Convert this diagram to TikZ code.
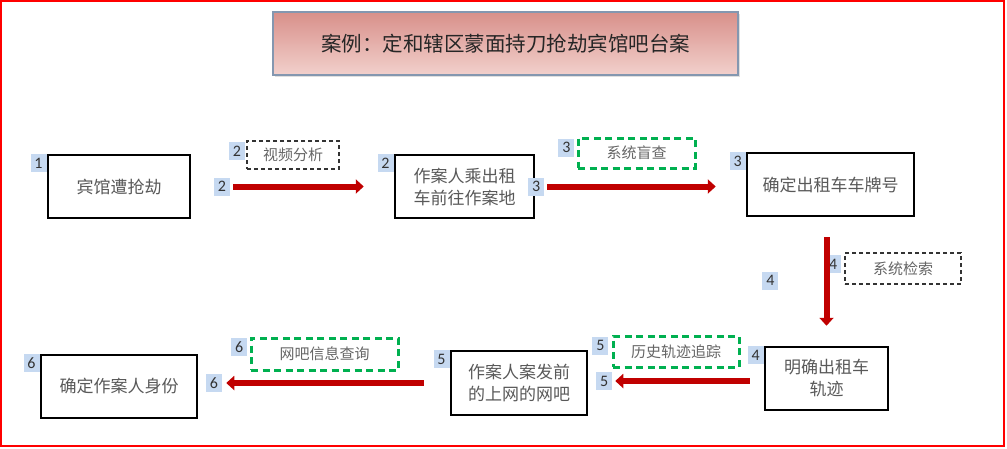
\documentclass[tikz,border=0pt]{standalone}
\usepackage{fontspec}
\setmainfont{Carlito}
\newfontfamily\cjk{Noto Sans CJK SC}
\usepackage{tikz}
\usetikzlibrary{positioning,arrows.meta,shadows}
\definecolor{flowred}{HTML}{C00000}
\definecolor{tagblue}{HTML}{C6D9F1}
\definecolor{notegreen}{HTML}{00B050}
\definecolor{titletop}{HTML}{D8908A}
\definecolor{titlebot}{HTML}{F2D0CC}
\definecolor{titleline}{HTML}{8497B0}
\definecolor{outerframe}{HTML}{FF0000}
\tikzset{
  stepbox/.style={draw=black, line width=2.5pt, fill=white, align=center,
              inner sep=0pt, text=black!65, font=\cjk\fontsize{17}{22}\selectfont},
  notebox/.style={draw=black!80, line width=1.5pt, dash pattern=on 4pt off 3pt,
              fill=white, inner sep=0pt, text=black!60, font=\cjk\fontsize{15}{18}\selectfont},
  greennote/.style={notebox, draw=notegreen, line width=3pt, dash pattern=on 7pt off 4.5pt},
  tag/.style={fill=tagblue, minimum width=16pt, minimum height=18pt, inner sep=0pt,
              text=black!80, font=\fontsize{16}{16}\selectfont},
  titlebox/.style={draw=titleline, line width=1.5pt, top color=titletop,
              bottom color=titlebot, inner sep=0pt, text=black!85,
              font=\cjk\fontsize{20.5}{24}\selectfont,
              drop shadow={opacity=0.25, shadow xshift=2pt, shadow yshift=-2pt}},
  flow/.style={draw=flowred, line width=6pt, -{Triangle[length=8pt,width=14pt]}},
}

\begin{document}
\begin{tikzpicture}[x=1pt, y=-1pt]
\useasboundingbox (0,0) rectangle (1007,448);
\draw[outerframe, line width=1.5pt] (1,1) rectangle (1004,446);

\node[titlebox, minimum width=465pt, minimum height=63pt] (title) at (505.5,43.5)
  {案例：定和辖区蒙面持刀抢劫宾馆吧台案};

\node[stepbox, minimum width=142pt, minimum height=63pt] (b1) at (119,186.5) {宾馆遭抢劫};
\node[stepbox, minimum width=139pt, minimum height=63pt] (b2) at (464.5,186.5)
  {作案人乘出租\\车前往作案地};
\node[stepbox, minimum width=167pt, minimum height=63pt] (b3) at (830.5,184.5) {确定出租车车牌号};
\node[stepbox, minimum width=123pt, minimum height=63pt] (b4) at (826.5,378.5)
  {明确出租车\\轨迹};
\node[stepbox, minimum width=136pt, minimum height=64pt] (b5) at (519,383)
  {作案人案发前\\的上网的网吧};
\node[stepbox, minimum width=156pt, minimum height=63pt] (b6) at (119,386.5) {确定作案人身份};

\node[tag, anchor=north east] (tb1) at (b1.north west) {1};
\node[tag, anchor=north east] (tb2) at (b2.north west) {2};
\node[tag, anchor=north east] (tb3) at (b3.north west) {3};
\node[tag, anchor=north east] (tb4) at (b4.north west) {4};
\node[tag, anchor=north east] (tb5) at (b5.north west) {5};
\node[tag, anchor=north east] (tb6) at (b6.north west) {6};

\node[notebox, minimum width=92pt, minimum height=28pt] (n2) at (293,155) {视频分析};
\node[greennote, minimum width=117pt, minimum height=30pt] (n3) at (636.5,153) {系统盲查};
\node[notebox, minimum width=116pt, minimum height=31pt] (n4) at (903,268.5) {系统检索};
\node[greennote, minimum width=126pt, minimum height=31pt] (n5) at (676,351.5) {历史轨迹追踪};
\node[greennote, minimum width=147pt, minimum height=32pt] (n6) at (324.5,354) {网吧信息查询};

\node[tag, anchor=north east] (tn2) at ([xshift=-1pt,yshift=-2pt]n2.north west) {2};
\node[tag, anchor=north east] (tn3) at ([xshift=-2pt,yshift=-2pt]n3.north west) {3};
\node[tag, anchor=north east] (tn4) at ([xshift=-3pt,yshift=-3pt]n4.north west) {4};
\node[tag, anchor=north east] (tn5) at ([xshift=-3pt,yshift=-2pt]n5.north west) {5};
\node[tag, anchor=north east] (tn6) at ([xshift=-2pt,yshift=-1pt]n6.north west) {6};

\coordinate (a2s) at ([xshift=42pt]b1.east);
\coordinate (a2e) at ([xshift=-30pt]b2.west);
\coordinate (a3s) at ([xshift=12pt]b2.east);
\coordinate (a3e) at ([xshift=-30pt,yshift=-2pt]b3.west);
\coordinate (a4s) at ([xshift=-4pt,yshift=-20pt]b3.south);
\coordinate (a4e) at ([yshift=20pt]b4.north);
\coordinate (a5s) at ([xshift=-14pt,yshift=-2.5pt]b4.west);
\coordinate (a5e) at ([xshift=27pt,yshift=2pt]b5.east);
\coordinate (a6s) at ([xshift=-26pt]b5.west);
\coordinate (a6e) at ([xshift=28pt,yshift=3.5pt]b6.east);

\draw[flow] (a2s) -- (a2e);
\draw[flow] (a3s) -- (a3e);
\draw[flow] (a4s) -- (a4e);
\draw[flow] (a5s) -- (a5e);
\draw[flow] (a6s) -- (a6e);

\node[tag, left=3pt of a2s] (ta2) {2};
\node[tag, left=3pt of a3s] (ta3) {3};
\node[tag, left=48pt of a4e, yshift=45pt] (ta4) {4};
\node[tag, left=3pt of a5e] (ta5) {5};
\node[tag, left=4pt of a6e] (ta6) {6};
\end{tikzpicture}
\end{document}
